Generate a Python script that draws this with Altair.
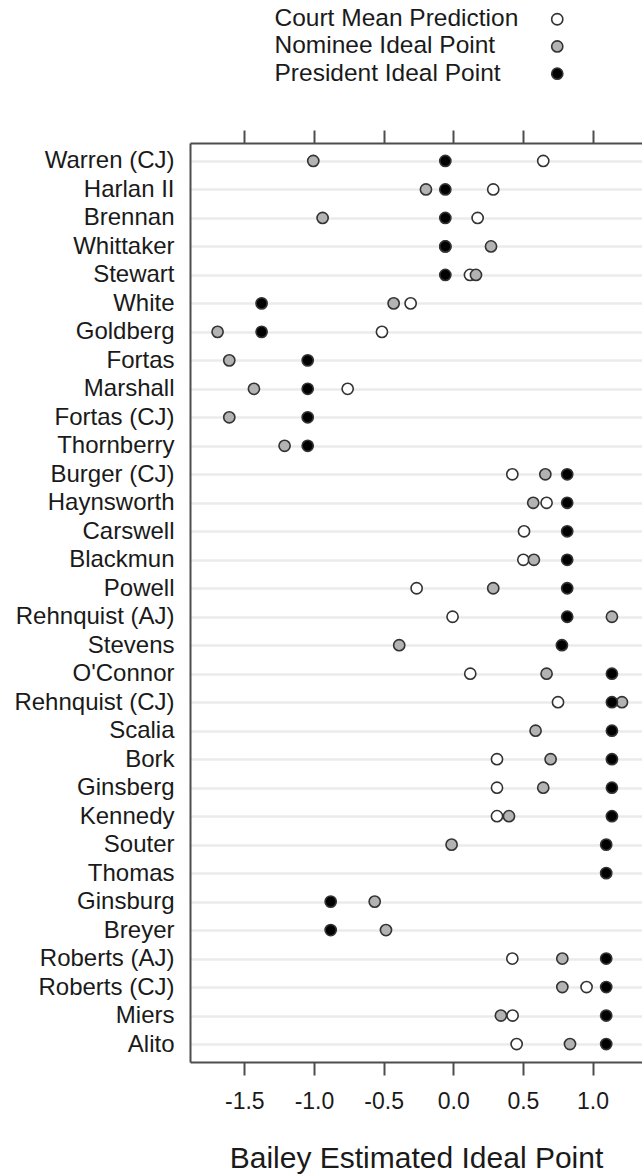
import altair as alt
import pandas as pd

# Justices in display order (top to bottom)
names = [
    "Warren (CJ)", "Harlan II", "Brennan", "Whittaker", "Stewart", "White",
    "Goldberg", "Fortas", "Marshall", "Fortas (CJ)", "Thornberry",
    "Burger (CJ)", "Haynsworth", "Carswell", "Blackmun", "Powell",
    "Rehnquist (AJ)", "Stevens", "O'Connor", "Rehnquist (CJ)", "Scalia",
    "Bork", "Ginsberg", "Kennedy", "Souter", "Thomas", "Ginsburg", "Breyer",
    "Roberts (AJ)", "Roberts (CJ)", "Miers", "Alito",
]

court_mean = [
    0.646, 0.287, 0.175, -0.057, 0.120, -0.306,
    -0.512, None, -0.758, None, None,
    0.424, 0.670, 0.508, 0.503, -0.263,
    -0.005, None, 0.122, 0.752, None,
    0.314, 0.314, 0.314, None, None, None, None,
    0.424, 0.957, 0.426, 0.455,
]

nominee = [
    -1.005, -0.196, -0.938, 0.271, 0.163, -0.428,
    -1.692, -1.608, -1.431, -1.608, -1.211,
    0.661, 0.574, None, 0.579, 0.287,
    1.139, -0.388, 0.670, 1.211, 0.591,
    0.699, 0.646, 0.400, -0.012, None, -0.564, -0.483,
    0.783, 0.783, 0.342, 0.838,
]

president = [
    -0.057, -0.057, -0.057, -0.057, -0.057, -1.376,
    -1.376, -1.045, -1.045, -1.045, -1.045,
    0.818, 0.818, 0.818, 0.818, 0.818,
    0.818, 0.780, 1.139, 1.139, 1.139,
    1.139, 1.139, 1.139, 1.098, 1.098, -0.880, -0.880,
    1.098, 1.098, 1.098, 1.098,
]

series = ["Court Mean Prediction", "Nominee Ideal Point", "President Ideal Point"]
fills = ["white", "#b3b3b3", "black"]
tick_values = [-1.5, -1.0, -0.5, 0.0, 0.5, 1.0]

rows = []
for label, vals in zip(series, [court_mean, nominee, president]):
    for n, v in zip(names, vals):
        if v is not None:
            rows.append({"justice": n, "series": label, "ideal": v})
df = pd.DataFrame(rows)

FONT = "Liberation Sans"
INK = "#1a1a1a"
FRAME = "#4d4d4d"

# tick labels with a plain hyphen as the minus sign
hyphen_labels = (
    "datum.value < 0 ? '-' + format(-datum.value, '.1f') : format(datum.value, '.1f')"
)

x_scale = alt.Scale(domain=[-1.89, 1.355], nice=False, zero=False)

points = alt.Chart(df).mark_point(
    filled=True, size=125, stroke="#333333", strokeWidth=1.6, opacity=1
).encode(
    x=alt.X(
        "ideal:Q",
        scale=x_scale,
        axis=alt.Axis(
            orient="bottom", values=tick_values, labelExpr=hyphen_labels,
            title="Bailey Estimated Ideal Point", grid=False,
            tickSize=13, tickWidth=2, tickColor=FRAME,
            domainColor=FRAME, domainWidth=2,
            labelFontSize=23, labelPadding=15, labelColor=INK, labelFont=FONT,
            titleFontSize=30, titleFontWeight="normal", titleColor=INK,
            titleFont=FONT, titlePadding=30,
        ),
    ),
    y=alt.Y(
        "justice:N",
        sort=names,
        scale=alt.Scale(type="point", padding=0.63),
        axis=alt.Axis(
            title=None, ticks=False, tickSize=0, labelPadding=16,
            labelFontSize=24, labelColor=INK, labelFont=FONT,
            grid=True, gridColor="#ebebeb", gridWidth=2.5,
            domainColor=FRAME, domainWidth=2,
        ),
    ),
    color=alt.Color(
        "series:N",
        scale=alt.Scale(domain=series, range=fills),
        legend=alt.Legend(
            title=None, orient="none", legendX=355, legendY=-136,
            labelFontSize=24.5, labelOffset={"expr": "-295"}, labelAlign="left",
            labelColor=INK, labelFont=FONT, labelLimit=400,
            symbolType="circle", symbolSize=125,
            symbolStrokeColor="#333333", symbolStrokeWidth=1.6,
            rowPadding=2.2, padding=0,
        ),
    ),
)

# invisible layer that carries the tick marks along the top edge
top_axis = alt.Chart(df).mark_point(opacity=0).encode(
    x=alt.X(
        "ideal:Q",
        scale=x_scale,
        axis=alt.Axis(
            orient="top", values=tick_values, labels=False, title=None,
            grid=False, tickSize=13, tickWidth=2, tickColor=FRAME,
            domainColor=FRAME, domainWidth=2,
        ),
    ),
)

chart = (
    alt.layer(points, top_axis)
    .resolve_axis(x="independent")
    .properties(
        width=452,
        height=919,
        padding={"left": 190, "top": 143, "right": 0, "bottom": 112},
        autosize="none",
        background="white",
    )
    .configure_view(stroke=None)
)

chart.save("out.html", embed_options={"renderer": "svg", "actions": False})
